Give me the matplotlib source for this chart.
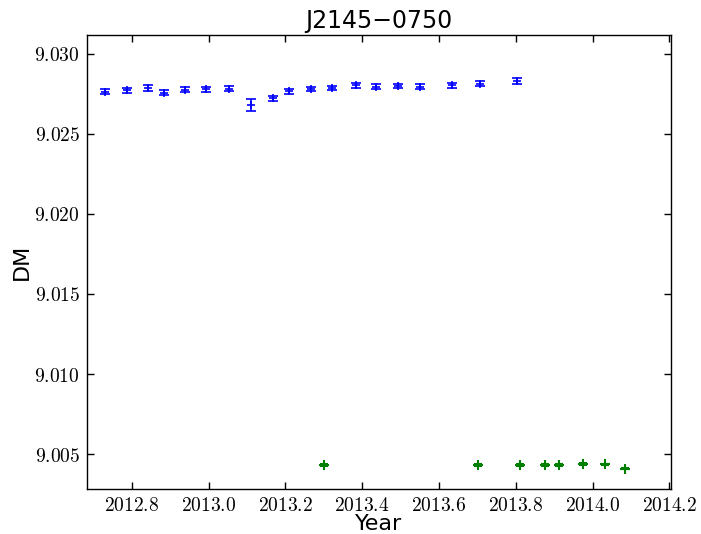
import matplotlib
matplotlib.use('Agg')
import matplotlib.pyplot as plt
from matplotlib.ticker import FuncFormatter, MultipleLocator

plt.rcParams['mathtext.fontset'] = 'cm'

# DM measurements, first receiver
year_a = [2012.730, 2012.787, 2012.843, 2012.885, 2012.939, 2012.993, 2013.052,
          2013.111, 2013.168, 2013.209, 2013.267, 2013.321, 2013.383, 2013.436,
          2013.492, 2013.550, 2013.633, 2013.708, 2013.804]
dm_a = [9.02764, 9.02773, 9.02786, 9.02756, 9.02775, 9.02777, 9.02783,
        9.02681, 9.02721, 9.02767, 9.02781, 9.02788, 9.02802, 9.02794,
        9.02800, 9.02794, 9.02804, 9.02813, 9.02829]
err_a = [0.00016, 0.00016, 0.00017, 0.00016, 0.00015, 0.00014, 0.00016,
         0.00036, 0.00017, 0.00016, 0.00012, 0.00013, 0.00016, 0.00015,
         0.00014, 0.00016, 0.00016, 0.00016, 0.00017]

# DM measurements, second receiver
year_b = [2013.300, 2013.702, 2013.810, 2013.877, 2013.913, 2013.976, 2014.033, 2014.084]
dm_b = [9.00431, 9.00431, 9.00431, 9.00431, 9.00431, 9.00439, 9.00436, 9.00408]
err_b = [0.00004, 0.00004, 0.00004, 0.00005, 0.00004, 0.00006, 0.00004, 0.00004]

fig = plt.figure(figsize=(7.01, 5.34), dpi=100)
ax = fig.add_axes([0.124, 0.084, 0.833, 0.851])

ax.errorbar(year_a, dm_a, yerr=err_a, fmt='+', color='blue', ms=6, mew=1.2,
            elinewidth=1.2, capsize=3.5, capthick=1.2)
ax.errorbar(year_b, dm_b, yerr=err_b, fmt='+', color='green', ms=7, mew=1.5,
            elinewidth=1.2, capsize=3, capthick=1.2)

ax.set_xlim(2012.683, 2014.204)
ax.set_ylim(9.00281, 9.03119)
ax.xaxis.set_major_locator(MultipleLocator(0.2))
ax.yaxis.set_major_locator(MultipleLocator(0.005))
ax.xaxis.set_major_formatter(FuncFormatter(lambda v, p: r'$%.1f$' % v))
ax.yaxis.set_major_formatter(FuncFormatter(lambda v, p: r'$%.3f$' % v))

ax.tick_params(direction='in', top=True, right=True, length=5, width=1,
               labelsize=14, pad=5)
for s in ax.spines.values():
    s.set_linewidth(1)

ax.set_title('J2145\u22120750', fontsize=17, pad=5)
ax.set_xlabel('Year', fontsize=16, labelpad=-1)
ax.set_ylabel('DM', fontsize=16, labelpad=2)

fig.savefig('out.png', dpi=100)
